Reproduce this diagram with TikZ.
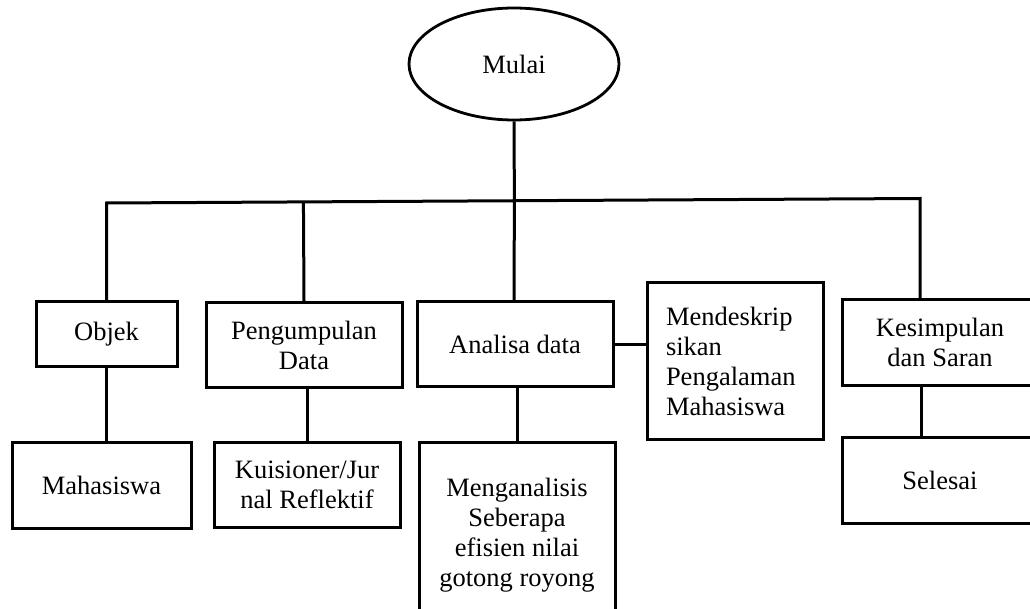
\documentclass[tikz,border=0pt]{standalone}
\usepackage{fontspec}
\setmainfont{Liberation Serif}
\usetikzlibrary{shapes.geometric,calc}
\tikzset{
  x=1pt,y=-1pt,
  every node/.style={font=\fontsize{26.5}{30}\selectfont},
  boxnode/.style={draw,rectangle,line width=3pt,inner sep=0pt,align=center},
  link/.style={line width=3pt}
}
\begin{document}
\begin{tikzpicture}
\useasboundingbox (0,0) rectangle (1030,609);
\begin{scope}
\clip (0,0) rectangle (1030,609);
\node[draw,ellipse,line width=2.8pt,minimum width=210pt,minimum height=112pt,inner sep=0pt] (mulai) at (514,64) {Mulai};
\node[boxnode,minimum width=141pt,minimum height=64pt] (objek) at (106.5,334) {Objek};
\node[boxnode,minimum width=196pt,minimum height=84pt] (peng) at (304,345) {Pengumpulan\\Data};
\node[boxnode,minimum width=196pt,minimum height=84pt] (analisa) at (515,344) {Analisa data};
\node[boxnode,minimum height=156pt,text width=138pt,inner xsep=19pt,align=left] (mendes) at (735,361) {Mendeskrip\\sikan\\Pengalaman\\Mahasiswa};
\node[boxnode,minimum width=196pt,minimum height=85pt] (kesim) at (940,342.5) {Kesimpulan\\dan Saran};
\node[boxnode,minimum width=179pt,minimum height=86pt] (mahas) at (101.5,485) {Mahasiswa};
\node[boxnode,minimum width=186pt,minimum height=85pt] (kuis) at (307,484.5) {Kuisioner/Jur\\nal Reflektif};
\node[boxnode,minimum width=196pt,minimum height=186pt] (mengan) at (517,535) {Menganalisis\\Seberapa\\efisien nilai\\gotong royong};
\node[boxnode,minimum width=196pt,minimum height=86pt] (selesai) at (940,480) {Selesai};
\coordinate (busL) at (objek.north |- 0,203);
\coordinate (busR) at (920,198.5);
\coordinate (kv) at (921,0);
\draw[link,line join=miter] (objek.north) -- (busL) -- (busR) -- (busR |- kesim.north);
\draw[link] (mulai.south) -- ($(busL)!(mulai.south)!(busR)$);
\draw[link] (peng.north) -- ($(busL)!(peng.north)!(busR)$);
\draw[link] (analisa.north -| mulai.south) -- ($(busL)!(mulai.south)!(busR)$);
\draw[link] (objek.south) -- (objek.south |- mahas.north);
\draw[link] (peng.south -| kuis.north) -- (kuis.north);
\draw[link] (analisa.south -| mengan.north) -- (mengan.north);
\draw[link] (analisa.east) -- (analisa.east -| mendes.west);
\draw[link] (kesim.south -| kv) -- (selesai.north -| kv);
\end{scope}
\end{tikzpicture}
\end{document}
